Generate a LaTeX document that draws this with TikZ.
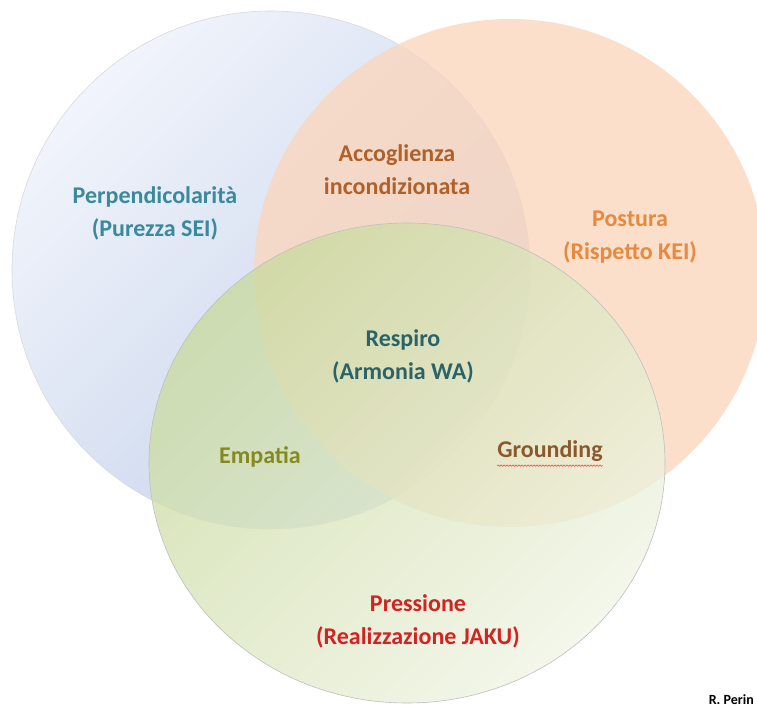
\documentclass[tikz,border=0pt]{standalone}
\usepackage{fontspec}
\setmainfont{Carlito}
\usetikzlibrary{decorations.pathmorphing}
\definecolor{bluelight}{HTML}{F1F4FB}
\definecolor{bluedark}{HTML}{C4D2EB}
\definecolor{orangefill}{HTML}{FBD6BD}
\definecolor{greendark}{HTML}{C9DA9E}
\definecolor{greenlight}{HTML}{F1F5E6}
\definecolor{tealtxt}{HTML}{3A8A9C}
\definecolor{browntxt}{HTML}{B0612A}
\definecolor{orangetxt}{HTML}{E58A3E}
\definecolor{darktealtxt}{HTML}{2A6468}
\definecolor{olivetxt}{HTML}{868A1E}
\definecolor{groundtxt}{HTML}{8A5A2E}
\definecolor{redtxt}{HTML}{D42222}
\tikzset{
  lbl/.style={font=\fontsize{24}{33}\selectfont\bfseries, align=center, inner sep=0pt},
}
\begin{document}
\begin{tikzpicture}[x=1pt,y=-1pt]
\useasboundingbox (0,0) rectangle (757,708);
\fill[white] (0,0) rectangle (757,708);
% blue circle
\shade[left color=bluelight, right color=bluedark, shading angle=45]
  (271,270) circle[radius=259pt];
\draw[black!15, line width=0.6pt] (271,270) circle[radius=259pt];
% orange circle
\fill[orangefill, opacity=0.78] (510,273) circle[x radius=256pt, y radius=254pt];
% green ellipse
\shade[left color=greendark, right color=greenlight, shading angle=45, opacity=0.78]
  (407,463) circle[x radius=258pt, y radius=240pt];
\draw[black!25, line width=0.6pt] (407,463) circle[x radius=258pt, y radius=240pt];
% labels
\node[lbl, text=tealtxt] (perp) at (155,213) {Perpendicolarità\\(Purezza SEI)};
\node[lbl, text=browntxt] (acc) at (397,170) {Accoglienza\\incondizionata};
\node[lbl, text=orangetxt] (pos) at (630,237) {Postura\\(Rispetto KEI)};
\node[lbl, text=darktealtxt] (resp) at (403,356) {Respiro\\(Armonia WA)};
\node[lbl, text=olivetxt] (emp) at (260,457) {Empatia};
\node[lbl, text=groundtxt] (gro) at (550,451) {Grounding};
\draw[red!80, line width=0.5pt, decorate, decoration={snake, amplitude=0.7pt, segment length=3pt}]
  ([yshift=-4pt]gro.south west) -- ([yshift=-4pt]gro.south east);
\node[font=\fontsize{14}{16}\selectfont\bfseries, anchor=base east, inner sep=0pt] (auth) at (754,704) {R. Perin};
\node[lbl, text=redtxt] (pres) at (418,621) {Pressione\\(Realizzazione JAKU)};
\end{tikzpicture}
\end{document}
